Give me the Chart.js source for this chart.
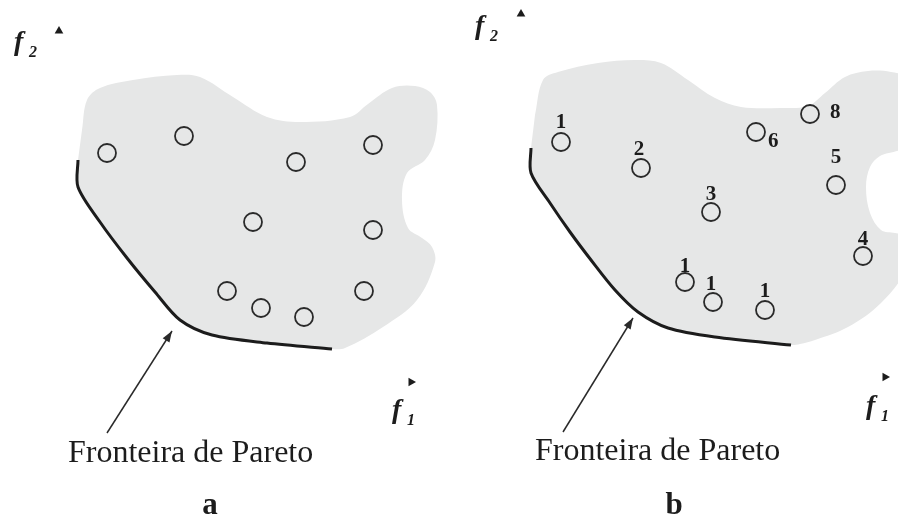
<!DOCTYPE html>
<html>
<head>
<meta charset="utf-8">
<script src="https://cdn.jsdelivr.net/npm/chart.js@4/dist/chart.umd.min.js"></script>
<style>
  html, body { margin: 0; padding: 0; background: #fff; }
  #wrap { width: 898px; height: 519px; position: relative; }
</style>
</head>
<body>
<div id="wrap"><canvas id="pareto"></canvas></div>
<script>
// picture units: x from the left, y from the top (y axis is reversed)
const regionA = [[78,160],[78,187],[100,222],[127,258],[155,292],[180,320],[212,335],[267,343],[332,349],
  [345,348],[383,327],[417,300],[435,262],[432,247],[422,238],[408,228],[402,200],[407,173],[425,160],
  [435,140],[437,105],[430,92],[415,86],[392,88],[368,104],[350,117],[300,122],[267,117],[233,97],
  [200,77],[177,75],[133,80],[100,88],[87,100],[82,130]];
const frontA = [[78,160],[78,187],[100,222],[127,258],[155,292],[180,320],[212,335],[267,343],[332,349]];
const solutionsA = [[107,153],[184,136],[296,162],[373,145],[253,222],[373,230],[227,291],[261,308],[304,317],[364,291]];

const regionB = [[531,148],[531,173],[550,203],[570,232],[591,260],[615,290],[638,312],[668,328],[715,337],[791,345],
  [800,344],[815,340],[848,327],[881,303],[905,270],[905,236],[895,233],[881,230],[870,213],[866,187],[870,167],
  [880,156],[905,145],[905,78],[891,72],[868,71],[845,77],[825,93],[808,106],[781,108],[741,107],[715,98],
  [688,80],[661,63],[635,60],[598,63],[558,72],[543,80],[535,115]];
const frontB = [[531,148],[531,173],[550,203],[570,232],[591,260],[615,290],[638,312],[668,328],[715,337],[791,345]];
const solutionsB = [[561,142],[641,168],[711,212],[756,132],[810,114],[836,185],[863,256],[685,282],[713,302],[765,310]];
const ranksB = ['1','2','3','6','8','5','4','1','1','1'];

const arrowA = [[107,433],[172,331]];
const arrowB = [[563,432],[633,318]];
const axisUpMarks = [[59,31],[521,14]];
const axisRightMarks = [[411,382],[885,377]];

const frontLabel = 'Fronteira de Pareto';
const panelNames = ['a', 'b'];

// where the texts go (not data)
const rankOffsets = [[0,-14],[-2,-13],[0,-12],[12,15],[20,4],[0,-22],[0,-11],[0,-10],[-2,-12],[0,-13]];
const frontLabelPos = [[68,462],[535,460]];
const panelNamePos = [[210,514],[674,514]];
const f2Pos = [[14,50],[475,34]];
const f1Pos = [[392,418],[866,414]];

const toXY = pts => pts.map(([x, y]) => ({x: x, y: y}));
const serif = '"Liberation Serif", "DejaVu Serif", serif';
const ink = '#1c1c1c';

function regionSet(pts) {
  return {
    data: toXY(pts),
    showLine: true,
    fill: 'shape',
    backgroundColor: '#e6e7e7',
    borderColor: 'rgba(0,0,0,0)',
    borderWidth: 0,
    tension: 0.35,
    pointRadius: 0,
    order: 10
  };
}

function frontSet(pts) {
  return {
    data: toXY(pts),
    showLine: true,
    fill: false,
    borderColor: ink,
    borderWidth: 3,
    tension: 0.3,
    pointRadius: 0,
    order: 5
  };
}

function solutionSet(pts) {
  return {
    data: toXY(pts),
    showLine: false,
    pointStyle: 'circle',
    pointRadius: 9,
    pointBorderWidth: 1.8,
    pointBorderColor: '#2a2a2a',
    pointBackgroundColor: 'rgba(0,0,0,0)',
    order: 1
  };
}

function arrowSet(pts) {
  return {
    data: toXY(pts),
    showLine: true,
    fill: false,
    borderColor: '#2a2a2a',
    borderWidth: 1.5,
    pointRadius: 0,
    arrow: true,
    order: 1
  };
}

const texts = {
  id: 'texts',
  afterDatasetsDraw(chart) {
    const ctx = chart.ctx;
    const sx = chart.scales.x, sy = chart.scales.y;
    const px = (x, y) => [sx.getPixelForValue(x), sy.getPixelForValue(y)];
    ctx.save();
    ctx.fillStyle = ink;

    // arrow heads
    chart.data.datasets.forEach((ds, i) => {
      if (!ds.arrow) return;
      const pts = chart.getDatasetMeta(i).data;
      const a = pts[pts.length - 2], b = pts[pts.length - 1];
      const ang = Math.atan2(b.y - a.y, b.x - a.x);
      const len = 11, half = 4;
      ctx.fillStyle = '#2a2a2a';
      ctx.beginPath();
      ctx.moveTo(b.x, b.y);
      ctx.lineTo(b.x - len * Math.cos(ang) + half * Math.sin(ang), b.y - len * Math.sin(ang) - half * Math.cos(ang));
      ctx.lineTo(b.x - len * Math.cos(ang) - half * Math.sin(ang), b.y - len * Math.sin(ang) + half * Math.cos(ang));
      ctx.closePath();
      ctx.fill();
    });

    ctx.fillStyle = ink;
    ctx.textBaseline = 'alphabetic';

    // rank numbers in panel b
    ctx.font = 'bold 21px ' + serif;
    solutionsB.forEach(([x, y], i) => {
      const [cx, cy] = px(x, y);
      const [dx, dy] = rankOffsets[i];
      ctx.textAlign = dx > 5 ? 'left' : 'center';
      ctx.fillText(ranksB[i], cx + dx, cy + dy);
    });

    // front captions
    ctx.font = '32px ' + serif;
    ctx.textAlign = 'left';
    frontLabelPos.forEach(([x, y]) => {
      const [cx, cy] = px(x, y);
      ctx.fillText(frontLabel, cx, cy);
    });

    // panel letters
    ctx.font = 'bold 31px ' + serif;
    ctx.textAlign = 'center';
    panelNamePos.forEach(([x, y], i) => {
      const [cx, cy] = px(x, y);
      ctx.fillText(panelNames[i], cx, cy);
    });

    // axis names
    const axisName = (pos, sub) => {
      pos.forEach(([x, y]) => {
        const [cx, cy] = px(x, y);
        ctx.textAlign = 'left';
        ctx.font = 'italic bold 28px ' + serif;
        ctx.fillText('f', cx, cy);
        ctx.font = 'italic bold 16px ' + serif;
        ctx.fillText(sub, cx + 15, cy + 7);
      });
    };
    axisName(f2Pos, '2');
    axisName(f1Pos, '1');
    ctx.restore();
  }
};

new Chart(document.getElementById('pareto').getContext('2d'), {
  type: 'scatter',
  data: {
    datasets: [
      regionSet(regionA),
      regionSet(regionB),
      frontSet(frontA),
      frontSet(frontB),
      solutionSet(solutionsA),
      solutionSet(solutionsB),
      arrowSet(arrowA),
      arrowSet(arrowB),
      {
        data: toXY(axisUpMarks),
        pointStyle: 'triangle',
        pointRadius: 5,
        rotation: 0,
        backgroundColor: ink,
        borderColor: ink,
        borderWidth: 0,
        order: 1
      },
      {
        data: toXY(axisRightMarks),
        pointStyle: 'triangle',
        pointRadius: 5,
        rotation: 90,
        backgroundColor: ink,
        borderColor: ink,
        borderWidth: 0,
        order: 1
      }
    ]
  },
  options: {
    responsive: true,
    maintainAspectRatio: false,
    animation: false,
    layout: { padding: 0, autoPadding: false },
    plugins: {
      legend: { display: false },
      tooltip: { enabled: false }
    },
    scales: {
      x: { type: 'linear', min: 0, max: 898, display: false },
      y: { type: 'linear', min: 0, max: 519, reverse: true, display: false }
    }
  },
  plugins: [texts]
});
</script>
</body>
</html>
